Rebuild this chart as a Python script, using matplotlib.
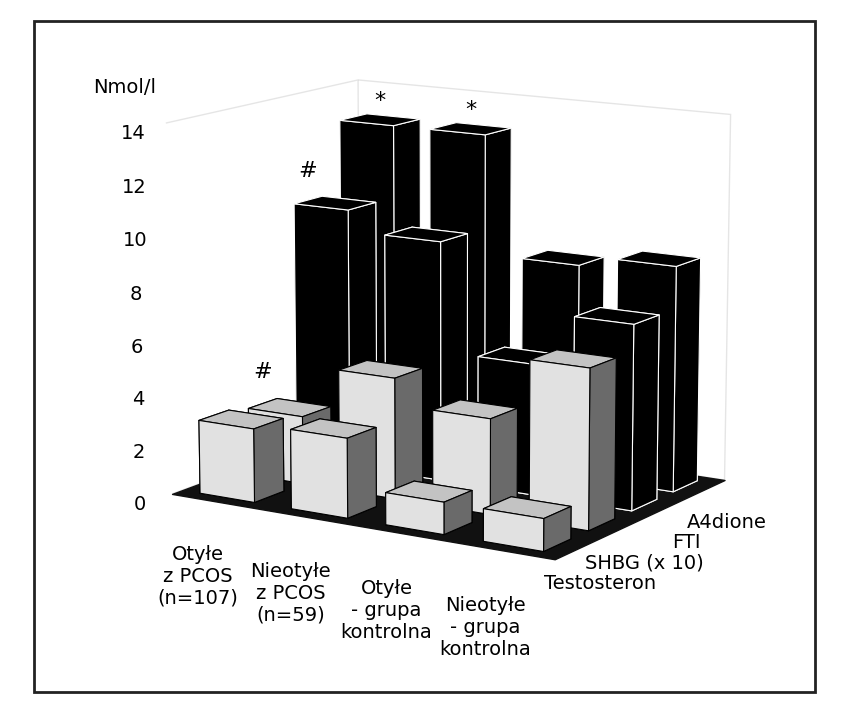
import matplotlib
matplotlib.use("Agg")
import matplotlib.pyplot as plt
import numpy as np
from matplotlib.patches import Rectangle
from mpl_toolkits.mplot3d.art3d import Poly3DCollection

groups = ["Otyłe\nz PCOS\n(n=107)", "Nieotyłe\nz PCOS\n(n=59)", "Otyłe\n- grupa\nkontrolna", "Nieotyłe\n- grupa\nkontrolna"]
series = ["Testosteron", "SHBG (x 10)", "FTI", "A4dione"]
testosteron = [2.8, 3.0, 1.2, 1.2]
shbg = [2.6, 4.6, 3.6, 6.0]
fti = [10.0, 9.2, 5.0, 7.0]
a4dione = [12.8, 12.8, 8.2, 8.6]
colors = ["white", "white", "black", "black"]
edges = ["black", "black", "white", "white"]

fig = plt.figure(figsize=(8.49, 7.13), dpi=100)
fig.patches.append(Rectangle((0.04, 0.03), 0.92, 0.94, transform=fig.transFigure,
                             fill=False, lw=2, color="#222"))
ax = fig.add_axes([0.06, 0.1, 0.92, 0.92], projection="3d", computed_zorder=False)
ax.view_init(elev=12, azim=-58)
for pane in (ax.xaxis.pane, ax.yaxis.pane, ax.zaxis.pane):
    pane.fill = False
    pane.set_edgecolor("#ccc")
ax.zaxis.pane.set_edgecolor("none")
ax.grid(False)
ax.zaxis._axinfo["juggled"] = (1, 2, 0)
for a in (ax.xaxis, ax.yaxis, ax.zaxis):
    a._axinfo["tick"]["inward_factor"] = 0
    a._axinfo["tick"]["outward_factor"] = 0
    a.line.set_color("none")

floor = [[(-0.2, -0.2, 0), (3.8, -0.2, 0), (3.8, 3.8, 0), (-0.2, 3.8, 0)]]
ax.add_collection3d(Poly3DCollection(floor, facecolor="#111", edgecolor="#111"))

w, d = 0.6, 0.6
rows = [testosteron, shbg, fti, a4dione]
for jj in range(3, -1, -1):
    for i in range(3, -1, -1):
        ax.bar3d(i, jj, 0, w, d, rows[jj][i], color=colors[jj], edgecolor=edges[jj],
                 linewidth=0.8, shade=True)

ax.set_xlim(-0.2, 3.8)
ax.set_ylim(-0.2, 3.8)
ax.set_zlim(0, 14)
ax.set_xticks(np.arange(4) + w / 2, groups, fontsize=14)
ax.set_yticks(np.arange(4) + d / 2, series, fontsize=14)
ax.set_zticks(range(0, 15, 2))
ax.tick_params(axis="z", labelsize=14, pad=6)
ax.tick_params(axis="x", pad=16)
ax.tick_params(axis="y", pad=6)
for t in ax.get_xticklabels():
    t.set_ha("center")
ax.set_box_aspect((1.3, 1.0, 1.1))
fig.text(0.11, 0.87, "Nmol/l", fontsize=14)
marks = [(0, 2, 10.9, "#", 0.0), (0, 1, 3.6, "#", 0.0), (0, 3, 13.3, "*", 0.3), (1, 3, 13.3, "*", 0.3)]
for i, j, z, s, off in marks:
    ax.text(i + off, j + d / 2, z, s, fontsize=16, ha="center", zorder=100)
fig.savefig("out.png", dpi=100)
